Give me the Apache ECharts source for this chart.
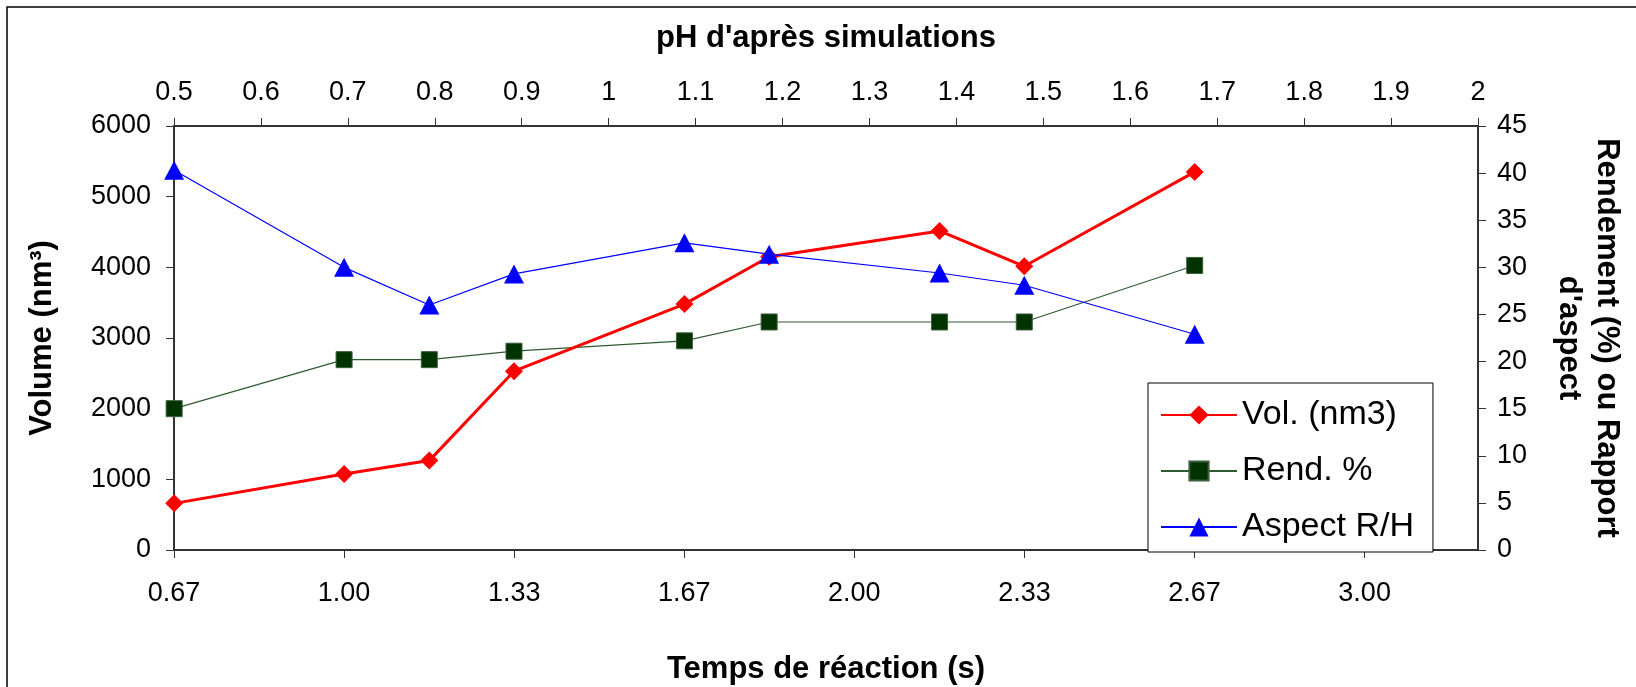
<!DOCTYPE html>
<html lang="fr">
<head>
    <meta charset="UTF-8">
    <title>Volume, rendement et rapport d'aspect</title>
    <script src="https://cdn.jsdelivr.net/npm/echarts@6/dist/echarts.min.js"></script>
    <style>
        html, body { margin: 0; padding: 0; background: #fff; }
        #chart { width: 1636px; height: 687px; }
    </style>
</head>
<body>
<div id="chart"></div>
<script>
    // temps de réaction (s) for each sample
    let temps = [0.667, 1.0, 1.167, 1.333, 1.667, 1.833, 2.167, 2.333, 2.667];
    // volume (nm3), left axis
    let volume = [660, 1075, 1265, 2530, 3480, 4150, 4515, 4015, 5350];
    // rendement (%), right axis
    let rendement = [15, 20.2, 20.2, 21.1, 22.2, 24.2, 24.2, 24.2, 30.2];
    // rapport d'aspect R/H, right axis
    let aspect = [40.3, 30.0, 26.0, 29.3, 32.6, 31.4, 29.4, 28.1, 22.9];

    let seriesNames = ['Vol. (nm3)', 'Rend. %', 'Aspect R/H'];

    let font = 'Liberation Sans, Arial, sans-serif';
    let axisColor = '#333';
    let titleStyle = { fontFamily: font, fontSize: 31, fontWeight: 'bold', color: '#000' };

    function pairs(ys) {
        return temps.map(function (t, i) { return [t, ys[i]]; });
    }

    let chart = echarts.init(document.getElementById('chart'));

    chart.setOption({
        animation: false,
        backgroundColor: '#fff',
        textStyle: { fontFamily: font, color: '#000' },
        grid: {
            left: 174, right: 158, top: 126, bottom: 137,
            containLabel: false,
            outerBoundsMode: 'none'
        },
        graphic: [{
            type: 'rect',
            shape: { x: 7, y: 7, width: 1700, height: 800 },
            style: { fill: 'none', stroke: '#000', lineWidth: 1.5 },
            silent: true
        }],
        legend: {
            orient: 'vertical',
            left: 1148,
            top: 383,
            data: seriesNames,
            itemWidth: 76,
            itemHeight: 24,
            itemGap: 16,
            padding: [12, 19, 5, 12],
            borderColor: '#000',
            borderWidth: 1,
            backgroundColor: '#fff',
            textStyle: { fontFamily: font, fontSize: 34, color: '#000', lineHeight: 40 }
        },
        xAxis: [
            {
                type: 'value',
                position: 'bottom',
                min: 0.6666666666666666,
                max: 3.2222,
                interval: 0.3333333333333333,
                name: 'Temps de réaction (s)',
                nameLocation: 'middle',
                nameGap: 104,
                nameTextStyle: titleStyle,
                axisLine: { onZero: false, lineStyle: { color: axisColor, width: 2 } },
                axisTick: { length: 8, lineStyle: { color: axisColor } },
                axisLabel: {
                    fontFamily: font, fontSize: 27, color: '#000', margin: 30,
                    showMaxLabel: false,
                    formatter: function (v) { return v.toFixed(2); }
                },
                splitLine: { show: false }
            },
            {
                type: 'value',
                position: 'top',
                min: 0.5,
                max: 2,
                interval: 0.1,
                name: "pH d'après simulations",
                nameLocation: 'middle',
                nameGap: 72,
                nameTextStyle: titleStyle,
                axisLine: { onZero: false, lineStyle: { color: axisColor, width: 2 } },
                axisTick: { length: 8, lineStyle: { color: axisColor } },
                axisLabel: { fontFamily: font, fontSize: 27, color: '#000', margin: 20 },
                splitLine: { show: false }
            }
        ],
        yAxis: [
            {
                type: 'value',
                position: 'left',
                min: 0,
                max: 6000,
                interval: 1000,
                name: 'Volume (nm³)',
                nameLocation: 'middle',
                nameRotate: 90,
                nameGap: 116,
                nameTextStyle: titleStyle,
                axisLine: { show: true, onZero: false, lineStyle: { color: axisColor, width: 2 } },
                axisTick: { show: true, length: 8, lineStyle: { color: axisColor } },
                axisLabel: {
                    fontFamily: font, fontSize: 27, color: '#000', margin: 23,
                    formatter: function (v) { return String(v); }
                },
                splitLine: { show: false }
            },
            {
                type: 'value',
                position: 'right',
                min: 0,
                max: 45,
                interval: 5,
                name: "Rendement (%) ou Rapport\nd'aspect",
                nameLocation: 'middle',
                nameRotate: -90,
                nameGap: 72,
                nameTextStyle: Object.assign({ lineHeight: 38 }, titleStyle),
                axisLine: { show: true, onZero: false, lineStyle: { color: axisColor, width: 2 } },
                axisTick: { show: true, length: 8, lineStyle: { color: axisColor } },
                axisLabel: { fontFamily: font, fontSize: 27, color: '#000', margin: 19 },
                splitLine: { show: false }
            }
        ],
        series: [
            {
                name: seriesNames[0],
                type: 'line',
                xAxisIndex: 0,
                yAxisIndex: 0,
                z: 3,
                data: pairs(volume),
                symbol: 'diamond',
                symbolSize: 18,
                lineStyle: { color: '#ff0000', width: 3 },
                itemStyle: { color: '#ff0000', borderWidth: 0 }
            },
            {
                name: seriesNames[1],
                type: 'line',
                xAxisIndex: 0,
                yAxisIndex: 1,
                z: 2,
                data: pairs(rendement),
                symbol: 'rect',
                symbolSize: 16,
                lineStyle: { color: '#2f5a2f', width: 1.2 },
                itemStyle: { color: '#003300', borderColor: '#3d5f3d', borderWidth: 1 }
            },
            {
                name: seriesNames[2],
                type: 'line',
                xAxisIndex: 0,
                yAxisIndex: 1,
                z: 4,
                data: pairs(aspect),
                symbol: 'triangle',
                symbolSize: [20, 19],
                lineStyle: { color: '#0000ff', width: 1.2 },
                itemStyle: { color: '#0000ff', borderWidth: 0 }
            }
        ]
    });
</script>
</body>
</html>
